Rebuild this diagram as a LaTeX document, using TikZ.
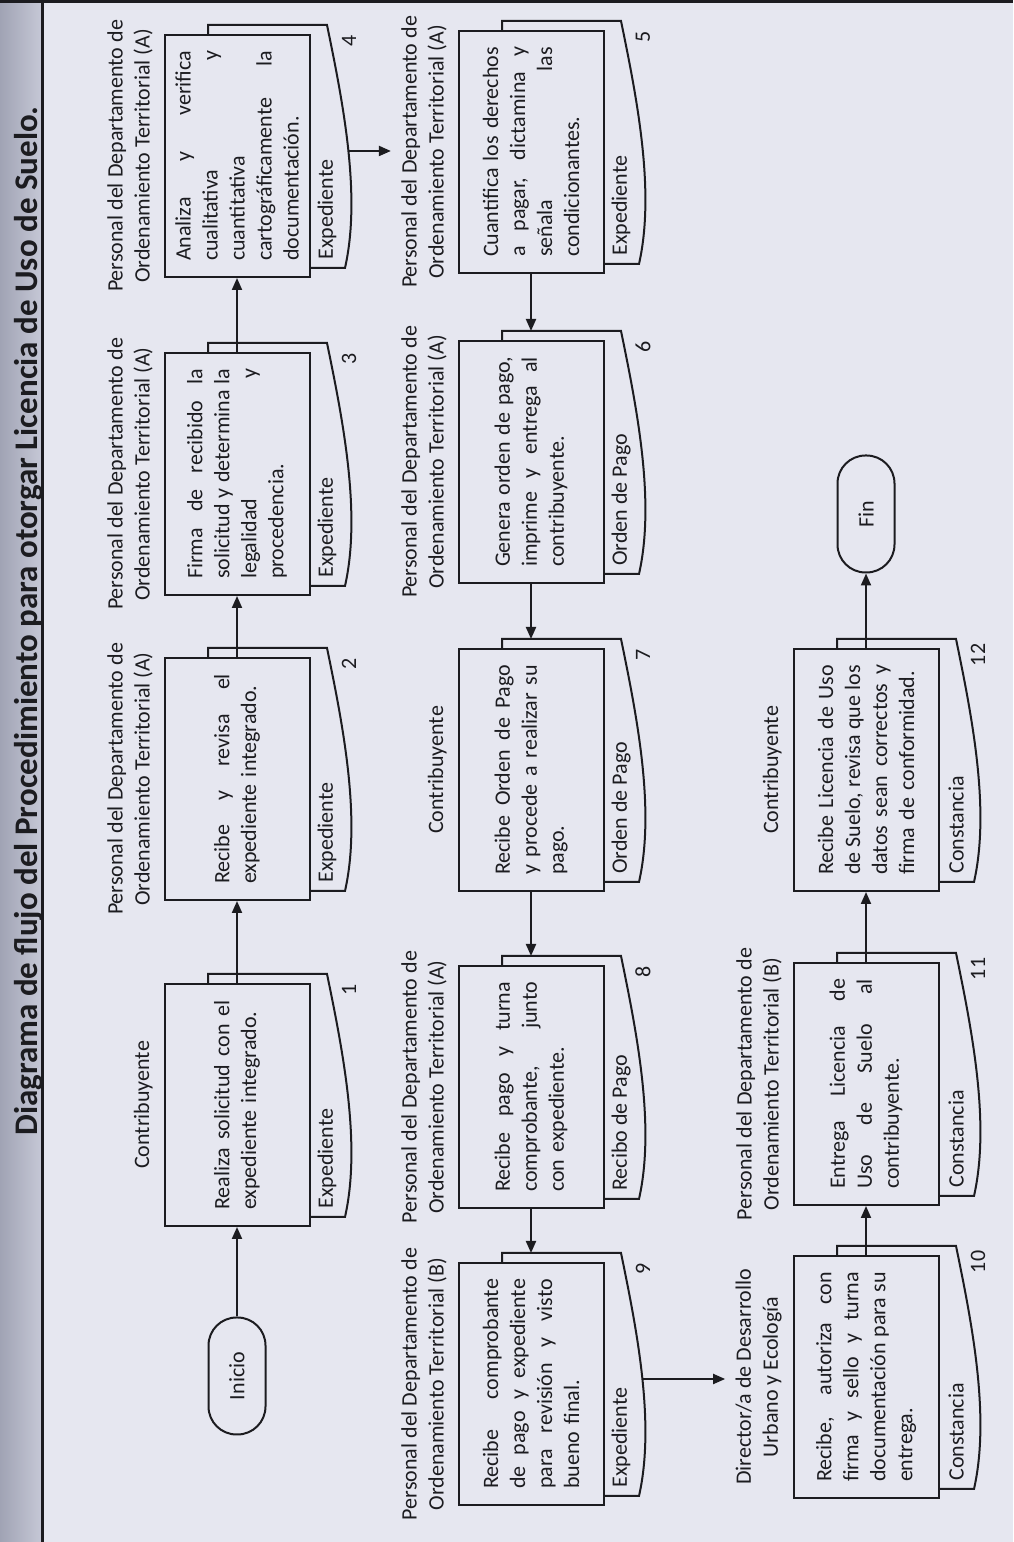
\documentclass[tikz,border=0pt]{standalone}
\usepackage{fontspec}
\setmainfont{Carlito}
\usetikzlibrary{arrows.meta}

\definecolor{papel}{RGB}{230,231,240}
\definecolor{franjaA}{RGB}{160,163,180}
\definecolor{franjaB}{RGB}{198,200,214}
\definecolor{tinta}{RGB}{28,28,32}

% justified line inside a box (TikZ fixes \spaceskip in ragged text)
\newcommand{\jline}[1]{\makebox[\hsize][s]{\spaceskip=0pt\xspaceskip=0pt\relax #1}}

\begin{document}
\begin{tikzpicture}[x=0.5pt,y=0.5pt,
  every node/.style={text=tinta, font=\fontsize{11}{13.5}\selectfont},
  caja/.style={draw=tinta, line width=1pt, fill=papel, minimum width=121pt, minimum height=72.5pt, text width=105pt, align=left, inner sep=0pt},
  docu/.style={draw=tinta, line width=1pt, fill=papel},
  doctxt/.style={anchor=west, inner sep=0pt},
  num/.style={inner sep=0pt},
  rol/.style={anchor=south, align=center, inner sep=0pt},
  term/.style={draw=tinta, line width=1pt, fill=papel, rounded corners=14pt, minimum width=58.5pt, minimum height=28.5pt, inner sep=0pt},
  flecha/.style={draw=tinta, line width=1pt, -{Triangle[length=6pt,width=5pt]}}]
\useasboundingbox (0,0) rectangle (1013,1542);

% page and title strip
\fill[papel] (0,0) rectangle (1013,1542);
\shade[left color=franjaA, right color=franjaB] (0,0) rectangle (42,1542);
\draw[tinta, line width=1.5pt] (42,0) -- (42,1542);
\draw[tinta, line width=2pt] (0,1541) -- (1013,1541);

\begin{scope}[rotate=90, transform shape]
% Text Node
\node[font=\fontsize{16.5}{19}\selectfont\bfseries] (titulo) at (921,-29) {Diagrama de flujo del Procedimiento para otorgar Licencia de Uso de Suelo.};

%Terminator
\node[term] (inicio) at (166,-237) {Inicio};
\node[term] (fin) at (1028,-866) {Fin};

% ---- fila 1 ----
%Shape: Document
\draw[docu] (325,-208) -- (568,-208) -- (568,-327) .. controls (486,-344) and (396,-361) .. (325,-345) -- cycle;
\coordinate (s1b) at (568,-237);
\node[caja] (s1) at (437,-237) {\jline{Realiza solicitud con el}\\expediente integrado.};
\node[doctxt] (s1t) at (333,-327) {Expediente};
\node[num] (s1n) at (552,-349) {1};
\node[rol] (s1r) at (437,-153) {Contribuyente};

%Shape: Document
\draw[docu] (651,-208) -- (894,-208) -- (894,-327) .. controls (812,-344) and (722,-361) .. (651,-345) -- cycle;
\coordinate (s2b) at (894,-237);
\node[caja] (s2) at (763,-237) {\jline{Recibe y revisa el}\\expediente integrado.};
\node[doctxt] (s2t) at (659,-327) {Expediente};
\node[num] (s2n) at (878,-349) {2};
\node[rol] (s2r) at (763,-153) {Personal del Departamento de\\Ordenamiento Territorial (A)};

%Shape: Document
\draw[docu] (956,-208) -- (1199,-208) -- (1199,-327) .. controls (1117,-344) and (1027,-361) .. (956,-345) -- cycle;
\coordinate (s3b) at (1199,-237);
\node[caja] (s3) at (1068,-237) {\jline{Firma de recibido la}\\\jline{solicitud y determina la}\\\jline{legalidad y}\\procedencia.};
\node[doctxt] (s3t) at (964,-327) {Expediente};
\node[num] (s3n) at (1183,-349) {3};
\node[rol] (s3r) at (1068,-153) {Personal del Departamento de\\Ordenamiento Territorial (A)};

%Shape: Document
\draw[docu] (1274,-208) -- (1517,-208) -- (1517,-327) .. controls (1435,-344) and (1345,-361) .. (1274,-345) -- cycle;
\coordinate (s4d) at (1391,-348);
\node[caja] (s4) at (1386,-237) {\jline{Analiza y verifica}\\\jline{cualitativa y}\\cuantitativa\\\jline{cartográficamente la}\\documentación.};
\node[doctxt] (s4t) at (1282,-327) {Expediente};
\node[num] (s4n) at (1501,-349) {4};
\node[rol] (s4r) at (1386,-153) {Personal del Departamento de\\Ordenamiento Territorial (A)};

% ---- fila 2 ----
%Shape: Document
\draw[docu] (1278,-502) -- (1521,-502) -- (1521,-621) .. controls (1439,-638) and (1349,-655) .. (1278,-639) -- cycle;
\coordinate (s5b) at (1521,-531);
\node[caja] (s5) at (1390,-531) {\jline{Cuantifica los derechos}\\\jline{a pagar, dictamina y}\\\jline{señala las}\\condicionantes.};
\node[doctxt] (s5t) at (1286,-621) {Expediente};
\node[num] (s5n) at (1505,-643) {5};
\node[rol] (s5r) at (1390,-447) {Personal del Departamento de\\Ordenamiento Territorial (A)};

%Shape: Document
\draw[docu] (968,-502) -- (1211,-502) -- (1211,-621) .. controls (1129,-638) and (1039,-655) .. (968,-639) -- cycle;
\coordinate (s6b) at (1211,-531);
\node[caja] (s6) at (1080,-531) {\jline{Genera orden de pago,}\\\jline{imprime y entrega al}\\contribuyente.};
\node[doctxt] (s6t) at (976,-621) {Orden de Pago};
\node[num] (s6n) at (1195,-643) {6};
\node[rol] (s6r) at (1080,-447) {Personal del Departamento de\\Ordenamiento Territorial (A)};

%Shape: Document
\draw[docu] (660,-502) -- (903,-502) -- (903,-621) .. controls (821,-638) and (731,-655) .. (660,-639) -- cycle;
\coordinate (s7b) at (903,-531);
\node[caja] (s7) at (772,-531) {\jline{Recibe Orden de Pago}\\\jline{y procede a realizar su}\\pago.};
\node[doctxt] (s7t) at (668,-621) {Orden de Pago};
\node[num] (s7n) at (887,-643) {7};
\node[rol] (s7r) at (772,-447) {Contribuyente};

%Shape: Document
\draw[docu] (343,-502) -- (586,-502) -- (586,-621) .. controls (504,-638) and (414,-655) .. (343,-639) -- cycle;
\coordinate (s8b) at (586,-531);
\node[caja] (s8) at (455,-531) {\jline{Recibe pago y turna}\\\jline{comprobante, junto}\\con expediente.};
\node[doctxt] (s8t) at (351,-621) {Recibo de Pago};
\node[num] (s8n) at (570,-643) {8};
\node[rol] (s8r) at (455,-447) {Personal del Departamento de\\Ordenamiento Territorial (A)};

%Shape: Document
\draw[docu] (46,-502) -- (289,-502) -- (289,-621) .. controls (207,-638) and (117,-655) .. (46,-639) -- cycle;
\coordinate (s9b) at (289,-531);
\coordinate (s9d) at (163,-642);
\node[caja] (s9) at (158,-531) {\jline{Recibe comprobante}\\\jline{de pago y expediente}\\\jline{para revisión y visto}\\bueno final.};
\node[doctxt] (s9t) at (54,-621) {Expediente};
\node[num] (s9n) at (273,-643) {9};
\node[rol] (s9r) at (158,-447) {Personal del Departamento de\\Ordenamiento Territorial (B)};

% ---- fila 3 ----
%Shape: Document
\draw[docu] (53,-837) -- (296,-837) -- (296,-956) .. controls (214,-973) and (124,-990) .. (53,-974) -- cycle;
\node[caja] (s10) at (165,-866) {\jline{Recibe, autoriza con}\\\jline{firma y sello y turna}\\\jline{documentación para su}\\entrega.};
\node[doctxt] (s10t) at (61,-956) {Constancia};
\node[num] (s10n) at (280,-978) {10};
\node[rol] (s10r) at (165,-782) {Director/a de Desarrollo\\Urbano y Ecología};

%Shape: Document
\draw[docu] (346,-837) -- (589,-837) -- (589,-956) .. controls (507,-973) and (417,-990) .. (346,-974) -- cycle;
\node[caja] (s11) at (458,-866) {\jline{Entrega Licencia de}\\\jline{Uso de Suelo al}\\contribuyente.};
\node[doctxt] (s11t) at (354,-956) {Constancia};
\node[num] (s11n) at (573,-978) {11};
\node[rol] (s11r) at (458,-782) {Personal del Departamento de\\Ordenamiento Territorial (B)};

%Shape: Document
\draw[docu] (660,-837) -- (903,-837) -- (903,-956) .. controls (821,-973) and (731,-990) .. (660,-974) -- cycle;
\node[caja] (s12) at (772,-866) {\jline{Recibe Licencia de Uso}\\\jline{de Suelo, revisa que los}\\\jline{datos sean correctos y}\\firma de conformidad.};
\node[doctxt] (s12t) at (668,-956) {Constancia};
\node[num] (s12n) at (887,-978) {12};
\node[rol] (s12r) at (772,-782) {Contribuyente};

%Straight Lines
\draw[flecha] (inicio) -- (s1);
\draw[flecha] (s1) -- (s2);
\draw[flecha] (s2) -- (s3);
\draw[flecha] (s3) -- (s4);
\draw[flecha, shorten >=5pt] (s4d) -- (s4d |- s5r.north);
\draw[flecha] (s5) -- (s6b);
\draw[flecha] (s6) -- (s7b);
\draw[flecha] (s7) -- (s8b);
\draw[flecha] (s8) -- (s9b);
\draw[flecha, shorten >=5pt] (s9d) -- (s9d |- s10r.north);
\draw[flecha] (s10) -- (s11);
\draw[flecha] (s11) -- (s12);
\draw[flecha] (s12) -- (fin);
\end{scope}
\end{tikzpicture}
\end{document}
